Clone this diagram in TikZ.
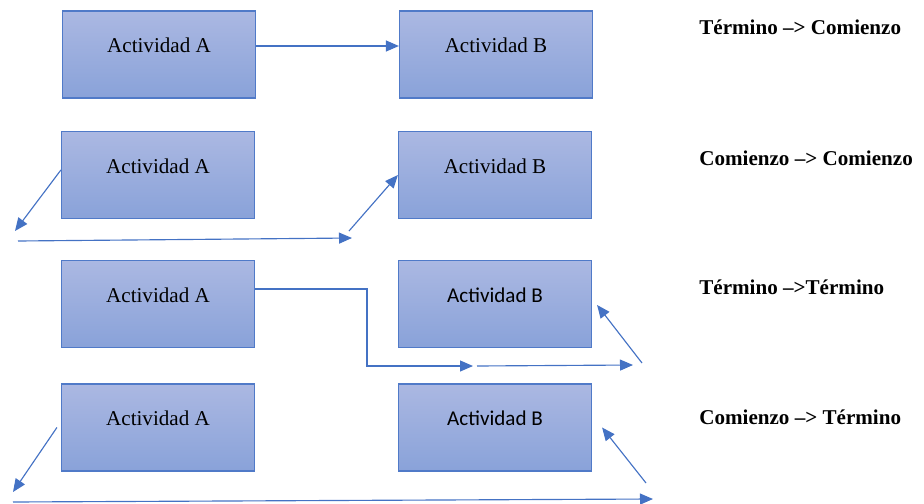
\documentclass[tikz,border=0pt]{standalone}
\usepackage{fontspec}
\setmainfont{Liberation Serif}
\newfontfamily\calfont{Carlito}
\usepackage{tikz}
\usetikzlibrary{shapes,arrows,arrows.meta,positioning}
\definecolor{boxline}{RGB}{80,122,200}
\definecolor{boxtop}{RGB}{171,184,226}
\definecolor{boxbot}{RGB}{137,162,217}
\definecolor{arrowblue}{RGB}{68,114,196}

\begin{document}
\begin{tikzpicture}[
  x=0.02cm, y=-0.02cm,
  actbox/.style={
    rectangle, draw=boxline, line width=0.7pt,
    top color=boxtop, bottom color=boxbot,
    minimum width=3.86cm, minimum height=1.74cm,
    text depth=0.36cm, inner sep=0pt,
    font=\fontsize{12}{14}\selectfont,
  },
  rellabel/.style={anchor=west, inner sep=0pt, font=\fontsize{12}{14}\selectfont\bfseries},
  link/.style={draw=arrowblue, line width=0.65pt,
    -{Triangle[length=2.6mm,width=2.2mm]}},
]
\useasboundingbox (0,0) rectangle (924,504);

\node[actbox] (a1) at (159,54.5) {Actividad A};
\node[actbox] (b1) at (496,54.5) {Actividad B};
\node[actbox] (a2) at (158,175) {Actividad A};
\node[actbox] (b2) at (495,175) {Actividad B};
\node[actbox] (a3) at (158,304) {Actividad A};
\node[actbox, font=\fontsize{12}{14}\selectfont\calfont] (b3) at (495,304) {Actividad B};
\node[actbox] (a4) at (158,427.5) {Actividad A};
\node[actbox, font=\fontsize{12}{14}\selectfont\calfont] (b4) at (495,427.5) {Actividad B};

\node[rellabel] (r1) at (699,27) {Término –> Comienzo};
\node[rellabel] (r2) at (699,158) {Comienzo –> Comienzo};
\node[rellabel] (r3) at (699,287) {Término –>Término};
\node[rellabel] (r4) at (699,417) {Comienzo –> Término};

% termino -> comienzo
\draw[link] ([yshift=0.17cm]a1.east) -- ([yshift=0.17cm]b1.west);

% comienzo -> comienzo
\coordinate (c2a) at (15,231);
\coordinate (c2b) at (18,241);
\coordinate (c2c) at (352,238);
\coordinate (c2d) at (349,231);
\draw[link] ([yshift=0.1cm]a2.west) -- (c2a);
\draw[link] (c2b) -- (c2c);
\draw[link] (c2d) -- ([yshift=0cm]b2.west);

% termino -> termino
\coordinate (c3a) at (367,366);
\coordinate (c3b) at (473,366);
\coordinate (c3c) at (477,366);
\coordinate (c3d) at (633,365);
\coordinate (c3e) at (642,363);
\draw[link] ([yshift=0.3cm]a3.east) -| (c3a) -- (c3b);
\draw[link] (c3c) -- (c3d);
\draw[link] (c3e) -- ([xshift=0.1cm,yshift=-0.02cm]b3.east);

% comienzo -> termino
\coordinate (c4a) at (13,492);
\coordinate (c4b) at (13,502);
\coordinate (c4c) at (653,499);
\coordinate (c4d) at (646,483);
\draw[link] ([xshift=-0.08cm]a4.west) -- (c4a);
\draw[link] (c4b) -- (c4c);
\draw[link] (c4d) -- ([xshift=0.2cm]b4.east);
\end{tikzpicture}
\end{document}
